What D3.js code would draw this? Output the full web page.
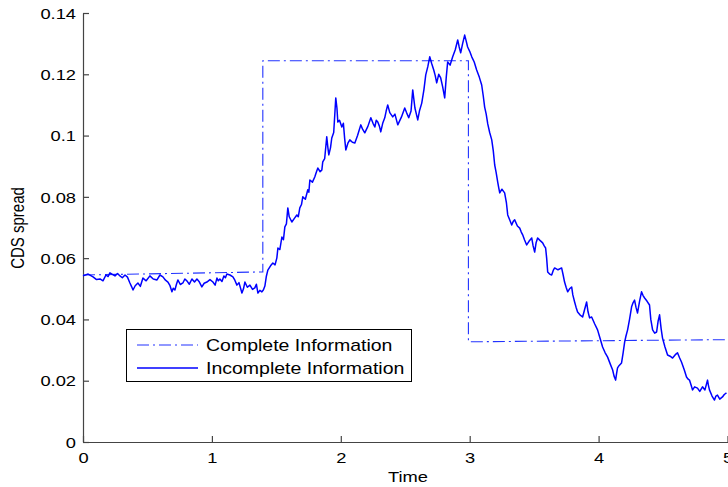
<!DOCTYPE html>
<html>
<head>
<meta charset="utf-8">
<script src="https://cdn.jsdelivr.net/npm/d3@7"></script>
<style>
  html, body { margin: 0; padding: 0; background: #fff; }
  svg { display: block; }
  text { font-family: "Liberation Sans", Arial, sans-serif; fill: #000; }
</style>
</head>
<body>
<svg id="chart" width="728" height="487"></svg>
<script>
// ---- data ----
const xTicks = [0, 1, 2, 3, 4, 5];
const yTicks = [0, 0.02, 0.04, 0.06, 0.08, 0.1, 0.12, 0.14];
const yTickLabels = ["0", "0.02", "0.04", "0.06", "0.08", "0.1", "0.12", "0.14"];
const seriesNames = ["Complete Information", "Incomplete Information"];

// [time, CDS spread]
const completePath = [[0, 0.0545], [1.395, 0.0555], [1.395, 0.1244], [2.99, 0.1244], [2.99, 0.0327], [5, 0.0334]];

const incompletePath = [
  [0,.0542],[0.04,.0548],[0.078,.0539],[0.105,.0530],[0.132,.0532],[0.155,.0526],[0.178,.0545],[0.195,.0540],
  [0.209,.0552],[0.228,.0547],[0.248,.0542],[0.268,.0550],[0.287,.0542],[0.305,.0536],[0.326,.0545],[0.345,.0538],
  [0.364,.0519],[0.376,.0508],[0.388,.0496],[0.405,.0510],[0.426,.0519],[0.445,.0508],[0.465,.0535],[0.49,.0526],
  [0.519,.0542],[0.545,.0532],[0.574,.0529],[0.597,.0545],[0.620,.0539],[0.64,.0528],[0.659,.0522],[0.675,.0510],
  [0.690,.0490],[0.700,.0502],[0.713,.0496],[0.725,.0515],[0.736,.0529],[0.755,.0514],[0.775,.0519],[0.79,.0532],
  [0.806,.0526],[0.825,.0515],[0.845,.0532],[0.865,.0522],[0.884,.0532],[0.90,.0524],[0.922,.0506],[0.94,.0518],
  [0.961,.0522],[0.985,.0530],[1.008,.0522],[1.025,.0512],[1.039,.0535],[1.05,.0526],[1.062,.0532],[1.078,.0524],
  [1.093,.0542],[1.105,.0536],[1.116,.0548],[1.14,.0545],[1.163,.0539],[1.178,.0528],[1.194,.0512],[1.21,.0520],
  [1.233,.0486],[1.245,.0500],[1.256,.0522],[1.275,.0505],[1.295,.0512],[1.315,.0498],[1.333,.0503],[1.345,.0515],
  [1.357,.0486],[1.372,.0495],[1.388,.0490],[1.40,.0497],[1.411,.0509],[1.422,.0540],[1.434,.0561],[1.455,.0575],
  [1.473,.0584],[1.49,.0578],[1.504,.0601],[1.512,.0633],[1.527,.0628],[1.543,.0669],[1.555,.0660],[1.566,.0702],
  [1.578,.0712],[1.589,.0764],[1.60,.0735],[1.620,.0718],[1.64,.0730],[1.659,.0741],[1.67,.0735],[1.682,.0764],
  [1.695,.0775],[1.705,.0800],[1.725,.0792],[1.744,.0823],[1.752,.0815],[1.760,.0855],[1.78,.0848],[1.798,.0865],
  [1.81,.0880],[1.822,.0894],[1.84,.0882],[1.853,.0888],[1.860,.0914],[1.875,.0925],[1.891,.0996],[1.90,.0960],
  [1.907,.0937],[1.92,.0960],[1.930,.0992],[1.945,.1010],[1.955,.1080],[1.961,.1123],[1.97,.1090],[1.977,.1044],
  [1.99,.1050],[2.008,.1028],[2.02,.1040],[2.03,.0990],[2.039,.0953],[2.055,.0975],[2.070,.0986],[2.09,.0978],
  [2.109,.0976],[2.13,.1000],[2.155,.1035],[2.17,.1020],[2.186,.1009],[2.21,.1030],[2.233,.1058],[2.25,.1040],
  [2.264,.1028],[2.275,.1050],[2.287,.1044],[2.30,.1030],[2.310,.1012],[2.325,.1040],[2.341,.1058],[2.352,.1080],
  [2.364,.1100],[2.38,.1075],[2.403,.1061],[2.42,.1070],[2.442,.1035],[2.47,.1060],[2.496,.1090],[2.51,.1075],
  [2.527,.1058],[2.545,.1080],[2.558,.1149],[2.575,.1090],[2.597,.1051],[2.61,.1080],[2.628,.1106],[2.645,.1150],
  [2.659,.1198],[2.675,.1225],[2.690,.1257],[2.705,.1235],[2.721,.1214],[2.733,.1195],[2.744,.1172],[2.76,.1200],
  [2.775,.1188],[2.79,.1160],[2.806,.1123],[2.818,.1190],[2.829,.1240],[2.848,.1230],[2.868,.1257],[2.888,.1280],
  [2.907,.1312],[2.918,.1290],[2.930,.1270],[2.945,.1300],[2.961,.1328],[2.972,.1310],[2.984,.1289],[3.0,.1275],
  [3.016,.1257],[3.035,.1240],[3.054,.1214],[3.075,.1190],[3.093,.1165],[3.105,.1130],[3.116,.1093],[3.128,.1070],
  [3.140,.1038],[3.155,.1010],[3.171,.0986],[3.183,.0950],[3.194,.0904],[3.205,.0880],[3.217,.0849],[3.225,.0830],
  [3.233,.0813],[3.25,.0825],[3.271,.0813],[3.285,.0780],[3.295,.0741],[3.31,.0725],[3.326,.0708],[3.338,.0720],
  [3.349,.0725],[3.37,.0705],[3.388,.0698],[3.40,.0685],[3.411,.0676],[3.425,.0660],[3.442,.0643],[3.46,.0655],
  [3.481,.0666],[3.492,.0640],[3.504,.0620],[3.515,.0650],[3.527,.0666],[3.545,.0658],[3.566,.0650],[3.578,.0640],
  [3.589,.0633],[3.597,.0600],[3.605,.0555],[3.62,.0548],[3.636,.0545],[3.648,.0560],[3.659,.0568],[3.685,.0562],
  [3.713,.0568],[3.725,.0545],[3.736,.0522],[3.748,.0505],[3.760,.0490],[3.775,.0500],[3.791,.0506],[3.80,.0480],
  [3.814,.0457],[3.825,.0440],[3.837,.0424],[3.855,.0415],[3.876,.0408],[3.89,.0430],[3.907,.0457],[3.918,.0425],
  [3.930,.0405],[3.946,.0408],[3.97,.0385],[3.992,.0366],[4.01,.0340],[4.031,.0310],[4.05,.0292],[4.070,.0277],
  [4.09,.0255],[4.109,.0235],[4.12,.0215],[4.132,.0202],[4.14,.0225],[4.147,.0242],[4.16,.0250],[4.178,.0258],
  [4.19,.0290],[4.202,.0326],[4.212,.0345],[4.225,.0366],[4.24,.0400],[4.256,.0441],[4.268,.0455],[4.279,.0463],
  [4.29,.0440],[4.302,.0421],[4.318,.0460],[4.333,.0490],[4.345,.0478],[4.357,.0470],[4.375,.0460],[4.395,.0447],
  [4.405,.0400],[4.419,.0366],[4.435,.0355],[4.450,.0359],[4.462,.0395],[4.473,.0415],[4.485,.0370],[4.496,.0339],
  [4.515,.0310],[4.535,.0284],[4.555,.0280],[4.574,.0274],[4.595,.0285],[4.612,.0291],[4.628,.0275],[4.643,.0261],
  [4.665,.0235],[4.682,.0212],[4.695,.0205],[4.705,.0202],[4.718,.0185],[4.729,.0170],[4.745,.0180],[4.767,.0176],
  [4.785,.0165],[4.806,.0180],[4.825,.0170],[4.845,.0202],[4.852,.0185],[4.860,.0170],[4.88,.0150],[4.899,.0137],
  [4.91,.0150],[4.922,.0153],[4.94,.0140],[4.961,.0147],[4.975,.0155],[4.992,.0160]
];

// ---- layout ----
const svg = d3.select("#chart");
const x = d3.scaleLinear().domain([0, 5]).range([83, 727.5]);
const y = d3.scaleLinear().domain([0, 0.14]).range([442, 13]);
const axisColor = "#444";
const SX = 1.22; // horizontal stretch of the text in the reference

// axes
const gx = svg.append("g").attr("transform", "translate(0,442)")
  .call(d3.axisBottom(x).tickValues(xTicks).tickSizeInner(-6).tickSizeOuter(0).tickFormat(d3.format("d")));
const gy = svg.append("g").attr("transform", "translate(83,0)")
  .call(d3.axisLeft(y).tickValues(yTicks).tickSizeInner(-6).tickSizeOuter(0)
    .tickFormat((d, i) => yTickLabels[i]));
[gx, gy].forEach(g => {
  g.select(".domain").attr("stroke", axisColor).attr("stroke-width", 1.2);
  g.selectAll(".tick line").attr("stroke", axisColor).attr("stroke-width", 1.2);
  g.selectAll(".tick text").attr("fill", "#000")
    .style("font-family", "'Liberation Sans', Arial, sans-serif").style("font-size", "15px");
});
gx.selectAll(".tick text").attr("y", 0).attr("dy", null)
  .attr("transform", `translate(0,21) scale(${SX},1)`);
gy.selectAll(".tick text").attr("x", 0).attr("dy", "0.35em")
  .attr("transform", `translate(-7,0) scale(${SX},1)`);

// axis titles
svg.append("text").attr("text-anchor", "middle")
  .attr("transform", `translate(408,482) scale(${SX},1)`)
  .style("font-size", "15px").text("Time");
svg.append("text").attr("text-anchor", "middle")
  .attr("transform", `translate(24,228) scale(${SX},1) rotate(-90)`)
  .style("font-size", "15px").text("CDS spread");

// lines
const line = d3.line().x(d => x(d[0])).y(d => y(d[1]));

svg.append("path").datum(completePath).attr("d", line)
  .attr("fill", "none").attr("stroke", "#2233ff").attr("stroke-width", 1.1)
  .attr("stroke-dasharray", "12,4,2,4");
svg.append("path").datum(incompletePath).attr("d", line)
  .attr("fill", "none").attr("stroke", "#0000ff").attr("stroke-width", 1.5)
  .attr("stroke-linejoin", "round");

// legend
const lg = svg.append("g");
lg.append("rect").attr("x", 126.5).attr("y", 329.5).attr("width", 285).attr("height", 52)
  .attr("fill", "#fff").attr("stroke", "#000").attr("stroke-width", 1);
const legendStyles = [
  { color: "#2233ff", dash: "12,4,2,4", w: 1.1 },
  { color: "#0000ff", dash: null, w: 1.4 }
];
seriesNames.forEach((name, i) => {
  const cy = 345 + i * 23;
  lg.append("line").attr("x1", 137).attr("x2", 198).attr("y1", cy).attr("y2", cy)
    .attr("stroke", legendStyles[i].color).attr("stroke-width", legendStyles[i].w)
    .attr("stroke-dasharray", legendStyles[i].dash);
  lg.append("text").attr("transform", `translate(206,${cy + 6}) scale(1.22,1)`)
    .style("font-size", "16px").text(name);
});
</script>
</body>
</html>
